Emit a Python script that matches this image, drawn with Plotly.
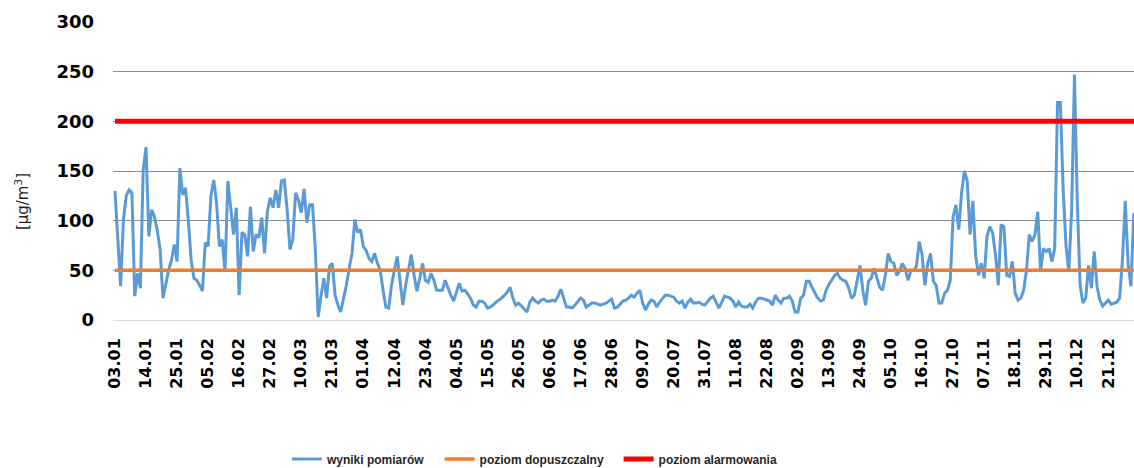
import pandas as pd
import plotly.graph_objects as go

# Daily PM10 measurements (µg/m3), 03.01 - 31.12
values_jan_feb = [130, 80, 34, 101, 125, 131, 128, 24, 47, 32, 151, 174, 84, 111, 104, 90, 71, 22, 38, 50,
                  60, 76, 59, 153, 126, 133, 100, 60, 42, 40, 35, 29, 78, 74, 125, 141, 118, 74, 81, 49,
                  140, 111, 86, 113, 25]
values_feb_apr = [88, 86, 64, 114, 69, 86, 83, 103, 67, 109, 123, 113, 131, 113, 140, 141, 111, 71, 81, 128,
                  121, 108, 132, 98, 116, 116, 71, 3, 24, 42, 22, 54, 57, 25, 15, 8, 22, 35, 52, 67,
                  101, 88, 91, 74, 70, 62]
values_apr_may = [59, 67, 57, 50, 30, 13, 12, 35, 50, 64, 40, 15, 35, 50, 66, 45, 29, 42, 57, 40,
                  38, 47, 40, 30, 30, 30, 40, 32, 25, 19, 27, 37, 29, 30, 26, 22, 15, 13, 19, 19,
                  17, 12, 13, 15, 18, 20]
values_may_jul = [22, 25, 28, 33, 22, 15, 17, 14, 11, 8, 18, 22, 19, 17, 20, 21, 19, 19, 20, 19,
                  24, 31, 22, 13, 13, 12, 15, 19, 22, 20, 13, 15, 17, 17, 16, 15, 16, 17, 19, 21,
                  12, 13, 16, 19, 20, 22]
values_jul_aug = [25, 23, 27, 30, 17, 10, 16, 20, 19, 13, 18, 21, 25, 25, 24, 23, 19, 17, 19, 12,
                  18, 21, 17, 17, 18, 16, 15, 19, 22, 24, 17, 12, 18, 24, 23, 22, 19, 13, 18, 14,
                  13, 13, 16, 12, 18, 22]
values_aug_oct = [22, 21, 20, 19, 15, 25, 20, 17, 22, 22, 24, 19, 8, 8, 22, 25, 39, 39, 33, 28,
                  22, 19, 20, 30, 36, 40, 45, 47, 42, 40, 39, 32, 22, 25, 40, 55, 30, 15, 39, 42,
                  52, 42, 33, 30, 45, 67]
values_oct_nov = [59, 57, 45, 49, 57, 52, 40, 49, 50, 54, 79, 66, 35, 57, 67, 39, 35, 17, 17, 27,
                  30, 40, 104, 116, 91, 128, 150, 140, 86, 120, 64, 45, 57, 42, 84, 94, 88, 66, 35, 96,
                  94, 45, 44, 59, 27, 20]
values_nov_dec = [22, 30, 50, 86, 79, 86, 109, 49, 72, 69, 72, 59, 72, 219, 219, 131, 75, 49, 110, 247,
                  120, 35, 17, 22, 55, 32, 69, 34, 20, 14, 17, 20, 16, 17, 18, 22, 60, 120, 57, 34,
                  106, 110]

measurements = (values_jan_feb + values_feb_apr + values_apr_may + values_may_jul +
                values_jul_aug + values_aug_oct + values_oct_nov + values_nov_dec)

dates = [d.strftime("%d.%m") for d in pd.date_range("2015-01-03", periods=len(measurements), freq="D")]

tick_labels = ["03.01", "14.01", "25.01", "05.02", "16.02", "27.02", "10.03", "21.03", "01.04", "12.04",
               "23.04", "04.05", "15.05", "26.05", "06.06", "17.06", "28.06", "09.07", "20.07", "31.07",
               "11.08", "22.08", "02.09", "13.09", "24.09", "05.10", "16.10", "27.10", "07.11", "18.11",
               "29.11", "10.12", "21.12"]

permissible_level = 50
alarm_level = 200

series_names = ["wyniki pomiarów", "poziom dopuszczalny", "poziom alarmowania"]
legend_pad = "\u00a0" * 3

fig = go.Figure()
fig.add_trace(go.Scatter(x=dates, y=measurements, mode="lines", name=series_names[0] + legend_pad,
                         line=dict(color="#5B9BD5", width=3)))
fig.add_trace(go.Scatter(x=dates, y=[permissible_level] * len(dates), mode="lines",
                         name=series_names[1] + legend_pad,
                         line=dict(color="#ED7D31", width=3.5)))
fig.add_trace(go.Scatter(x=dates, y=[alarm_level] * len(dates), mode="lines", name=series_names[2],
                         line=dict(color="#FF0000", width=5)))

fig.update_layout(
    template="none",
    width=1134, height=468,
    margin=dict(l=113, r=0, t=22, b=148, autoexpand=False),
    paper_bgcolor="white", plot_bgcolor="white",
    showlegend=True,
    legend=dict(orientation="h", xref="container", yref="container",
                x=0.253, xanchor="left", y=0.019, yanchor="middle",
                font=dict(family="Liberation Sans", size=12, color="#262626", weight="bold"),
                bgcolor="rgba(0,0,0,0)", itemwidth=30, tracegroupgap=0),
    annotations=[dict(text="[µg/m<sup>3</sup>]", textangle=-90, xref="paper", yref="paper",
                      x=-0.089, y=0.396, xanchor="center", yanchor="middle", showarrow=False,
                      font=dict(family="DejaVu Sans", size=15, color="#262626"))],
)

fig.update_xaxes(type="category", range=[-0.7, 361.1], tickmode="array", tickvals=tick_labels,
                 ticktext=tick_labels, tickangle=-90, showgrid=False, showline=False,
                 zeroline=False, ticks="", ticklabelstandoff=14, automargin=False,
                 tickfont=dict(family="DejaVu Sans", size=16, color="black", weight="bold"))
fig.update_yaxes(range=[0, 300], tickvals=[0, 50, 100, 150, 200, 250, 300], showgrid=True,
                 gridcolor="#8C8C8C", gridwidth=1, zeroline=True, zerolinecolor="#D9D9D9",
                 zerolinewidth=1, showline=False, ticks="", ticklabelstandoff=18, automargin=False,
                 tickfont=dict(family="DejaVu Sans", size=18, color="black", weight="bold"))

fig.write_html("out.html", config={"displayModeBar": False},
               post_script="document.body.style.margin='0';document.body.style.overflow='hidden';")
